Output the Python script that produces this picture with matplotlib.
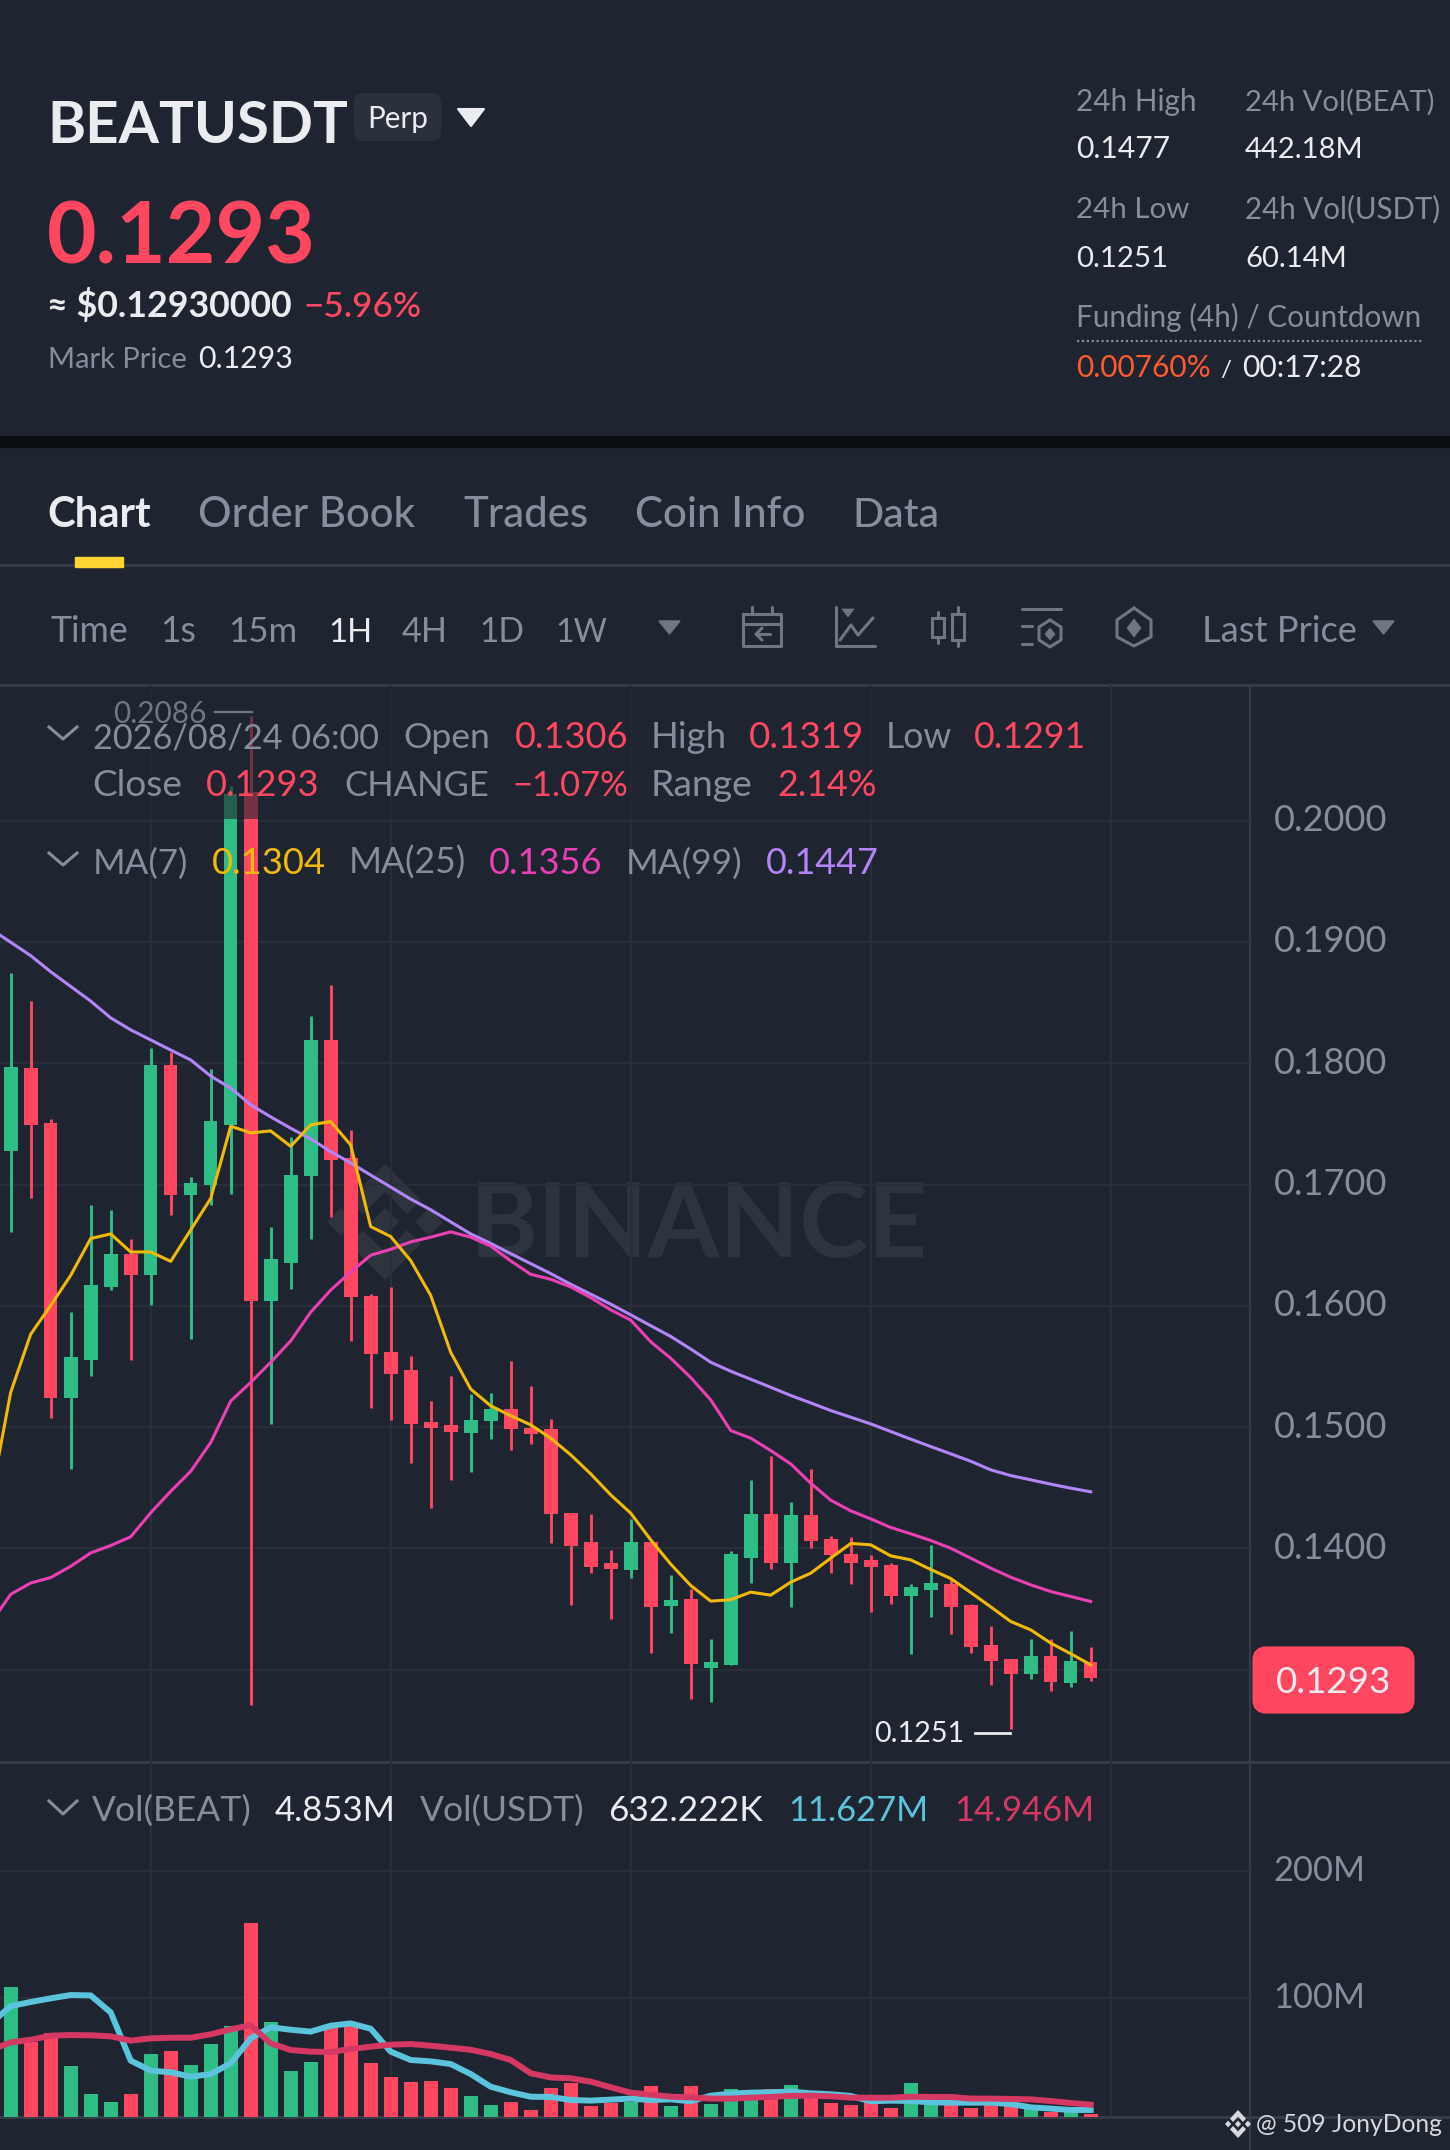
import numpy as np
import matplotlib
matplotlib.use("Agg")
import matplotlib.pyplot as plt
from matplotlib.patches import FancyBboxPatch, Polygon, Rectangle

# ---------- data ----------
opens = [.17277,.17960,.17508,.15237,.15557,.16152,.16428,.16257,.17988,.16913,.16996,.17492,.20232,.16036,.16356,.17067,.18192,.17216,.16080,.15617,.15469,.15039,.15016,.14950,.15050,.15149,.14991,.14983,.14296,.14055,.13884,.13824,.14055,.13522,.13585,.13016,.13041,.13923,.14283,.13884,.14274,.14074,.13953,.13904,.13862,.13612,.13654,.13706,.13536,.13203,.13085,.12961,.13112,.12893,.1306]
highs = [.18743,.18512,.17541,.15948,.16830,.16786,.16549,.18126,.18093,.17062,.17949,.20287,.2086,.16654,.17393,.18390,.18644,.17453,.16097,.16158,.15590,.15215,.15419,.15270,.15281,.15546,.15343,.15071,.14296,.14283,.13991,.14244,.14055,.13780,.13662,.13253,.13981,.14563,.14761,.14382,.14654,.14101,.14093,.13942,.13882,.13711,.14030,.13736,.13544,.13360,.13091,.13253,.13253,.13321,.1319]
lows = [.16610,.16885,.15077,.14653,.15419,.16130,.15551,.16003,.16748,.15728,.16830,.16924,.12707,.15022,.16141,.16549,.16731,.15711,.15160,.15055,.14702,.14333,.14564,.14631,.14901,.14813,.14857,.14044,.13535,.13794,.13417,.13755,.13134,.13305,.12755,.12736,.13036,.13714,.13827,.13516,.14005,.13794,.13703,.13475,.13546,.13126,.13434,.13294,.13134,.12876,.1251,.12926,.12827,.12854,.1291]
closes = [.17971,.17492,.15237,.15579,.16169,.16428,.16257,.17988,.16913,.17012,.17525,.20221,.16036,.16384,.17078,.18192,.17205,.16070,.15601,.15441,.15022,.14994,.14961,.15061,.15149,.14983,.14947,.14283,.14022,.13851,.13832,.14055,.13514,.13574,.13044,.13066,.13956,.14283,.13884,.14274,.14063,.13942,.13882,.13843,.13612,.13684,.13714,.13514,.13184,.13074,.12961,.13112,.12901,.13074,.1293]

# moving averages start one bar before the first visible candle
ma7 = [.14410,.15287,.15766,.16003,.16251,.16555,.16593,.16444,.16444,.16367,.16626,.16885,.17481,.17426,.17442,.17315,.17492,.17519,.17326,.16654,.16571,.16373,.16086,.15617,.15314,.15176,.15094,.15019,.14909,.14772,.14615,.14442,.14291,.14071,.13871,.13695,.13566,.13577,.13640,.13615,.13722,.13796,.13920,.14041,.14030,.13939,.13906,.13827,.13752,.13637,.13519,.13398,.13329,.13220,.13132,.13041]
ma25 = [.13385,.13622,.13715,.13760,.13853,.13963,.14024,.14096,.14294,.14471,.14636,.14873,.15215,.15369,.15535,.15711,.15948,.16130,.16279,.16417,.16466,.16527,.16566,.16610,.16566,.16493,.16370,.16260,.16219,.16156,.16068,.15967,.15882,.15704,.15568,.15409,.15225,.14972,.14909,.14807,.14697,.14538,.14398,.14310,.14244,.14173,.14121,.14066,.14002,.13920,.13838,.13763,.13700,.13645,.13604,.13563]
ma99 = [.19107,.18997,.18887,.18754,.18633,.18512,.18374,.18275,.18192,.18109,.18027,.17894,.17795,.17657,.17558,.17464,.17376,.17271,.17178,.17078,.16979,.16880,.16792,.16692,.16593,.16515,.16430,.16348,.16266,.16178,.16096,.16014,.15926,.15836,.15748,.15644,.15535,.15461,.15395,.15329,.15261,.15200,.15137,.15082,.15027,.14964,.14901,.14840,.14780,.14719,.14648,.14601,.14566,.14530,.14497,.14467]

volumes = [108.2,65.3,71.8,46.1,23.9,17.9,23.9,55.5,57.6,46.8,63.7,77.9,158.7,80.5,42.1,48.9,75.8,77.6,48.2,37.1,33.2,33.9,28.7,22.4,15.5,17.9,11.6,28.4,32.9,14.5,17.1,17.9,30.3,14.5,30.5,16.0,28.2,24.5,27.6,31.0,24.5,17.1,15.0,23.2,13.2,32.4,17.1,17.1,12.6,16.0,16.0,11.8,9.5,12.6,8.4]
vol_ma_fast = [79.7,93.4,96.6,99.5,102.1,101.8,88.4,50.3,42.4,41.1,37.6,39.7,48.2,67.9,76.6,74.7,73.2,77.9,79.7,75.5,57.4,50.8,49.7,47.6,39.7,29.7,25.3,21.8,21.6,19.2,18.7,19.5,20.3,19.2,19.7,18.2,22.6,24.2,25.0,25.3,25.8,24.5,23.7,22.4,18.2,18.7,18.4,17.4,17.1,17.1,17.1,16.0,13.4,12.4,11.3,11.3]
vol_ma_slow = [58.7,64.7,66.8,70.0,70.5,70.3,69.5,66.1,67.9,68.4,68.4,71.1,75.0,78.2,63.9,58.7,57.4,57.1,59.5,61.3,62.9,63.4,62.1,60.5,58.9,55.5,50.8,40.3,37.0,36.3,33.7,29.2,25.0,23.4,21.8,21.3,20.3,20.3,21.0,21.6,22.4,22.6,22.1,21.0,21.0,21.0,21.8,21.6,21.6,20.3,20.3,20.0,19.7,18.4,16.8,15.5]

price_ticks = [.13,.14,.15,.16,.17,.18,.19,.20]
price_tick_labels = ["","0.1400","0.1500","0.1600","0.1700","0.1800","0.1900","0.2000"]
vol_ticks = [100,200]
vol_tick_labels = ["100M","200M"]
time_grid = [7,19,31,43,55]

# ---------- style ----------
BG="#1F2530"; GRID="#292F39"; LINE="#353B47"; GRAY="#848E9C"; WHITE="#EAECEF"
RED="#FF4761"; GREEN="#2EBD85"; YEL="#F0B90B"; PINK="#EB40B5"; PURP="#B385F8"
CYAN="#5BC3DB"; CRIM="#D63864"; ICON="#6F7785"; WM="#2D343E"; FONT="Lato"

W,H=1450,2150
fig=plt.figure(figsize=(W/100,H/100),dpi=100,facecolor=BG)
rend=fig.canvas.get_renderer()

def mk_overlay(z):
    a=fig.add_axes([0,0,1,1],zorder=z)
    a.set_xlim(0,W); a.set_ylim(H,0); a.axis("off"); a.patch.set_alpha(0)
    return a
under=mk_overlay(0)
top=mk_overlay(5)

def fit(a,x0,x1,base,s,color=GRAY,weight="normal",zorder=10):
    t=a.text(x0,base,s,fontsize=20,ha="left",va="baseline",color=color,weight=weight,
             family=FONT,zorder=zorder)
    w=t.get_window_extent(rend).width
    t.set_fontsize(20*(x1-x0)/w)
    return t

# ---------- panes ----------
X_RIGHT=1250
PT,PB=685,1761.7
VT,VB=1762,2116.7
xlim=(-0.535,61.965)
ax=fig.add_axes([0,(H-PB)/H,X_RIGHT/W,(PB-PT)/H],zorder=2)
vx=fig.add_axes([0,(H-VB)/H,X_RIGHT/W,(VB-VT)/H],zorder=2)
for a in (ax,vx):
    a.patch.set_alpha(0)
    a.set_xlim(*xlim)
    for s in a.spines.values(): s.set_visible(False)
    a.set_xticks(time_grid); a.set_xticklabels([])
    a.tick_params(axis="x",length=0)
    a.yaxis.tick_right()
    a.grid(True,color=GRID,lw=1.7,zorder=0)
    a.set_axisbelow(True)
ax.set_ylim(.12242,.21118)
vx.set_ylim(6.0,286.2)
ax.set_yticks(price_ticks,price_tick_labels)
vx.set_yticks(vol_ticks,vol_tick_labels)
ax.tick_params(axis="y",length=0,pad=17,labelsize=26.0,labelcolor=GRAY)
vx.tick_params(axis="y",length=0,pad=17,labelsize=24.8,labelcolor=GRAY)
for a in (ax,vx):
    for l in a.get_yticklabels():
        l.set_family(FONT); l.set_verticalalignment("center")

idx=np.arange(len(opens))
o,h,l,c=map(np.array,(opens,highs,lows,closes))
cols=[GREEN if ci>oi else RED for oi,ci in zip(o,c)]
ax.vlines(idx,l,h,color=cols,lw=2.1,zorder=3)
ax.bar(idx,np.abs(c-o),bottom=np.minimum(o,c),width=0.68,color=cols,zorder=3,linewidth=0)
mx=np.arange(-1,55)
ax.plot(mx,ma99,color=PURP,lw=2.2,zorder=4,solid_joinstyle="round")
ax.plot(mx,ma25,color=PINK,lw=2.2,zorder=4,solid_joinstyle="round")
ax.plot(mx,ma7,color=YEL,lw=2.2,zorder=5,solid_joinstyle="round")

vx.bar(idx,volumes,width=0.7,color=cols,zorder=3,linewidth=0)
vx.plot(mx,vol_ma_fast,color=CYAN,lw=4.3,zorder=4,solid_joinstyle="round")
vx.plot(mx,vol_ma_slow,color=CRIM,lw=4.3,zorder=5,solid_joinstyle="round")

# ---------- background chrome ----------
under.add_patch(Rectangle((0,436),W,11,color="#0B0E11",zorder=1))
for yy in (565,685,1762,2117):
    under.plot([0,W],[yy,yy],color=LINE,lw=2.2,zorder=1)
under.plot([X_RIGHT,X_RIGHT],[685,H],color=LINE,lw=1.6,zorder=1)
under.add_patch(Rectangle((75,557),48,10,color="#FCD535",zorder=2))

def logo(a,cx,cy,rx,ry,color,zorder=2):
    parts=[[(0,-1),(.62,-.38),(.38,-.14),(0,-.52),(-.38,-.14),(-.62,-.38)],
           [(0,1),(.62,.38),(.38,.14),(0,.52),(-.38,.14),(-.62,.38)],
           [(0,-.24),(.24,0),(0,.24),(-.24,0)],
           [(.76,-.24),(1,0),(.76,.24),(.52,0)],
           [(-.76,-.24),(-.52,0),(-.76,.24),(-1,0)]]
    for p in parts:
        a.add_patch(Polygon([(cx+rx*u,cy+ry*v) for u,v in p],closed=True,color=color,lw=0,zorder=zorder))
logo(under,385,1222,58,58,WM)
fit(under,470,928,1256.7,"BINANCE",WM,"bold",zorder=2)

# ---------- header ----------
fit(top,47,348,143,"BEATUSDT",WHITE,"bold")
top.add_patch(FancyBboxPatch((358,97),79,40,boxstyle="round,pad=0,rounding_size=6",fc="#2A303C",ec="#2A303C",lw=6,zorder=5))
fit(top,367,428,128,"Perp",WHITE)
top.add_patch(Polygon([(458,109),(484,109),(471,126)],closed=True,fc=WHITE,ec=WHITE,lw=1.5,joinstyle="round",zorder=6))
fit(top,47,316,264,"0.1293",RED,"bold")
fit(top,47,293,317,"≈ $0.12930000",WHITE,"bold")
fit(top,303,421,317,"−5.96%",RED,500)
fit(top,48,187,368,"Mark Price",GRAY)
fit(top,198,293,368,"0.1293",WHITE)

fit(top,1076,1197,111,"24h High",GRAY)
fit(top,1245,1434,111,"24h Vol(BEAT)",GRAY)
fit(top,1076,1170,158,"0.1477",WHITE)
fit(top,1245,1364,158,"442.18M",WHITE)
fit(top,1076,1189,218,"24h Low",GRAY)
fit(top,1245,1440,218,"24h Vol(USDT)",GRAY)
fit(top,1076,1168,267,"0.1251",WHITE)
fit(top,1245,1347,267,"60.14M",WHITE)
fit(top,1076,1422,327,"Funding (4h) / Countdown",GRAY)
top.plot([1077,1422],[341,341],color=GRAY,lw=1.6,ls=(0,(1,1.2)),zorder=6)
fit(top,1076,1211,377,"0.00760%","#FF5A2E")
fit(top,1220,1231,377,"/",WHITE)
fit(top,1242,1362,377,"00:17:28",WHITE)

# ---------- tabs ----------
fit(top,47,151,527,"Chart",WHITE,"bold")
fit(top,198,415,527,"Order Book",GRAY,500)
fit(top,463,588,527,"Trades",GRAY,500)
fit(top,635,805,527,"Coin Info",GRAY,500)
fit(top,852,939,527,"Data",GRAY,500)

# ---------- toolbar ----------
for x0,x1,s,col in [(51,129,"Time",GRAY),(160,196,"1s",GRAY),(228,297,"15m",GRAY),(328,372,"1H",WHITE),
                    (402,448,"4H",GRAY),(479,524,"1D",GRAY),(555,607,"1W",GRAY),(1202,1357,"Last Price",GRAY)]:
    fit(top,x0,x1,642,s,col)
for x0,x1 in [(659,680),(1373,1394)]:
    top.add_patch(Polygon([(x0,621),(x1,621),((x0+x1)/2,634)],closed=True,fc=ICON,ec=ICON,lw=1,zorder=6))

def stroke(pts,lw=2.2):
    xs,ys=zip(*pts)
    top.plot(xs,ys,color=ICON,lw=lw,zorder=6,solid_capstyle="round",solid_joinstyle="round")
# calendar
stroke([(743,614),(781,614),(781,646),(743,646),(743,614)])
stroke([(743,624),(781,624)])
stroke([(752,607),(752,613)]); stroke([(772,607),(772,613)])
stroke([(770,634),(756,634)]); stroke([(762,628),(756,634),(762,640)])
# line chart
stroke([(836,607),(836,646),(875,646)])
stroke([(840,640),(851,625),(858,635),(873,618)])
top.add_patch(Polygon([(842,609),(854,609),(848,617)],closed=True,fc=ICON,ec=ICON,lw=0.5,zorder=6))
# candles
top.add_patch(Rectangle((932,618),12,19,fill=False,ec=ICON,lw=2.2,zorder=6))
top.add_patch(Rectangle((952,614),12,26,fill=False,ec=ICON,lw=2.2,zorder=6))
stroke([(938,612),(938,618)]); stroke([(938,637),(938,643)])
stroke([(958,607),(958,614)]); stroke([(958,640),(958,646)])
# settings
stroke([(1022,609),(1061,609)])
stroke([(1022,626),(1032,626)]); stroke([(1022,644),(1032,644)])
stroke([(1050,620),(1061,627),(1061,640),(1050,647),(1039,640),(1039,627),(1050,620)])
top.add_patch(Polygon([(1050,628),(1055,634),(1050,640),(1045,634)],closed=True,fc=ICON,ec=ICON,lw=0.5,zorder=6))
# hexagon
stroke([(1134,608),(1151,620),(1151,637),(1134,646),(1117,637),(1117,620),(1134,608)])
top.add_patch(Polygon([(1134,619),(1141,628),(1134,637),(1127,628)],closed=True,fc=ICON,ec=ICON,lw=0.5,zorder=6))

# ---------- legends ----------
top.add_patch(Rectangle((0,687),1110,132,fc=BG,ec="none",alpha=0.62,zorder=4))
fit(top,113,206,723,"0.2086","#6F7785",zorder=5)
top.plot([215,252],[711.5,711.5],color="#6F7785",lw=1.6,zorder=5)

def chevron(x0,x1,y0,y1):
    top.plot([x0,(x0+x1)/2,x1],[y0,y1,y0],color=GRAY,lw=2.2,zorder=10)
chevron(49,77,727,739); chevron(49,77,853,865); chevron(49,77,1801,1814)

for x0,x1,b,s,col in [
    (93,379,748,"2026/08/24 06:00",GRAY),(403,490,748,"Open",GRAY),(515,628,748,"0.1306",RED),
    (651,727,748,"High",GRAY),(749,864,748,"0.1319",RED),(886,952,748,"Low",GRAY),(974,1086,748,"0.1291",RED),
    (92,182,796,"Close",GRAY),(206,319,796,"0.1293",RED),(344,489,796,"CHANGE",GRAY),(512,628,796,"−1.07%",RED),
    (651,753,796,"Range",GRAY),(777,876,796,"2.14%",RED),
    (93,188,874,"MA(7)",GRAY),(212,326,874,"0.1304",YEL),(349,466,874,"MA(25)",GRAY),(489,602,874,"0.1356",PINK),
    (626,742,874,"MA(99)",GRAY),(766,879,874,"0.1447",PURP),
    (92,251,1821,"Vol(BEAT)",GRAY),(275,396,1821,"4.853M",WHITE),(420,584,1821,"Vol(USDT)",GRAY),
    (608,762,1821,"632.222K",WHITE),(788,928,1821,"11.627M",CYAN),(954,1094,1821,"14.946M",CRIM)]:
    fit(top,x0,x1,b,s,col)

# low label and last price box
fit(top,874,964,1741.7,"0.1251",WHITE)
top.plot([975,1010],[1732.7,1732.7],color=WHITE,lw=2.0,zorder=6)
top.add_patch(FancyBboxPatch((1258,1652),151,56,boxstyle="round,pad=0,rounding_size=8",fc=RED,ec=RED,lw=8,zorder=6))
fit(top,1276,1391,1693,"0.1293",WHITE,zorder=7)

# credit
logo(top,1238,2124,13,14,"#D5D8DC",zorder=7)
fit(top,1256,1442,2132,"@ 509 JonyDong","#D5D8DC",zorder=7)

fig.savefig("out.png",dpi=100,facecolor=BG)
